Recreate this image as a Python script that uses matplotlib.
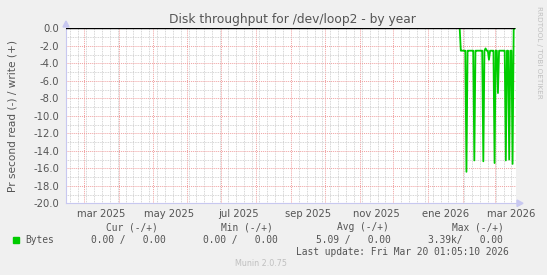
import matplotlib
matplotlib.use("Agg")
import matplotlib.pyplot as plt
import matplotlib.dates as mdates
from matplotlib.patches import Polygon
from matplotlib.ticker import MultipleLocator
import pandas as pd

# graph window (by year, ~400 days)
t_start = "2025-02-13 01:05"
t_end = "2026-03-20 01:05"

# read side (drawn negative), one value per day from 2026-01-29
quiet_dates = ["2025-02-13", "2026-01-29"]
quiet_vals = [0.0, 0.0]
active_from = "2026-01-29"
read_vals = [0.0, -2.56, -2.56,
             -2.56, -2.56, -2.56, -16.4, -2.56, -2.56, -2.56, -2.56, -2.56, -2.56,
             -15.1, -2.56, -2.56, -2.56, -2.56, -2.56, -2.56, -2.56, -15.2, -2.56,
             -2.3, -2.56, -2.56, -3.6, -2.56, -2.56, -2.56, -2.56,
             -15.4, -2.56, -2.56, -7.4, -2.56, -2.56, -2.56, -2.56, -2.56, -2.56,
             -15.1, -2.56, -2.56, -15.0, -2.56, -2.56, -15.5, 0.0, 0.0]

month_ticks = ["2025-03-16", "2025-05-16", "2025-07-16", "2025-09-16",
               "2025-11-16", "2026-01-16", "2026-03-16"]
month_labels = ["mar 2025", "may 2025", "jul 2025", "sep 2025",
                "nov 2025", "ene 2026", "mar 2026"]

legend_heads = ["Cur (-/+)", "Min (-/+)", "Avg (-/+)", "Max (-/+)"]
legend_vals = ["0.00 /   0.00", "0.00 /   0.00", "5.09 /   0.00", "3.39k/   0.00"]

W, H = 547, 275
fig = plt.figure(figsize=(W / 100, H / 100), dpi=100, facecolor="#f0f0f0")


def fx(px):
    return px / W


def fy(py):
    return 1 - py / H


left, right, top, bottom = 66, 516, 28.3, 203.3
ax = fig.add_axes([fx(left), fy(bottom), fx(right) - fx(left), (bottom - top) / H])
ax.set_facecolor("white")

days = pd.date_range(active_from, periods=len(read_vals), freq="D")
ax.plot(pd.to_datetime(quiet_dates), quiet_vals, color="#00cc00", lw=1.3, zorder=3)
ax.plot(days, read_vals, color="#00cc00", lw=1.3, zorder=3)
ax.axhline(0, color="black", lw=1.0, zorder=4, xmax=0.995)

ax.set_xlim(pd.Timestamp(t_start), pd.Timestamp(t_end))
ax.set_ylim(-20, 0)

# grid
ax.xaxis.set_major_locator(mdates.MonthLocator())
ax.xaxis.set_minor_locator(mdates.WeekdayLocator(byweekday=mdates.MO))
ax.yaxis.set_major_locator(MultipleLocator(2))
ax.yaxis.set_minor_locator(MultipleLocator(1))
ax.grid(True, which="major", color="#f0a0a0", lw=0.7, ls=(0, (1, 1)), zorder=1)
ax.grid(True, which="minor", color="#c8c8c8", lw=0.6, ls=(0, (1, 1)), zorder=0)
ax.tick_params(which="both", length=0)
ax.set_xticklabels([])

ax.set_yticks(range(-20, 1, 2))
ax.set_yticklabels(["%.1f" % v for v in range(-20, 1, 2)])
ax.tick_params(axis="y", labelsize=7.2, labelcolor="#555555", pad=5)

for t, lab in zip(month_ticks, month_labels):
    ax.text(mdates.date2num(pd.Timestamp(t)), -20.7, lab, ha="center", va="top",
            fontsize=7.2, color="#555555", clip_on=False)

for s in ["top", "right"]:
    ax.spines[s].set_visible(False)
ax.spines["left"].set_color("#c8c8f0")
ax.spines["bottom"].set_color("#c8c8f0")
ax.spines["left"].set_linewidth(0.8)
ax.spines["bottom"].set_linewidth(0.8)

# axis arrows
fig.add_artist(Polygon([[fx(63), fy(27)], [fx(69), fy(27)], [fx(66), fy(21)]],
                       closed=True, color="#c8c8f0", transform=fig.transFigure))
fig.add_artist(Polygon([[fx(517), fy(200)], [fx(517), fy(206.5)], [fx(523), fy(203.3)]],
                       closed=True, color="#c8c8f0", transform=fig.transFigure))

fig.text(fx(292), fy(19), "Disk throughput for /dev/loop2 - by year", ha="center",
         va="center", fontsize=8.8, color="#555555")
fig.text(fx(13), fy(116), "Pr second read (-) / write (+)", rotation=90, ha="center",
         va="center", fontsize=7.6, color="#555555")
fig.text(fx(539), fy(6), "RRDTOOL / TOBI OETIKER", rotation=270, ha="center", va="top",
         fontsize=5.2, color="#c0c0c0")

mono = "DejaVu Sans Mono"
head_x = [106, 221, 337, 452]
val_x = [91, 203, 316, 428]
for x, h in zip(head_x, legend_heads):
    fig.text(fx(x), fy(227), h, fontsize=6.9, family=mono, color="#555555",
             va="center", ha="left")
fig.patches.append(plt.Rectangle((fx(13), fy(243)), fx(6), 6 / H, color="#00cc00",
                                 transform=fig.transFigure, figure=fig))
fig.text(fx(25), fy(240), "Bytes", fontsize=6.9, family=mono, color="#555555",
         va="center", ha="left")
for x, v in zip(val_x, legend_vals):
    fig.text(fx(x), fy(240), v, fontsize=6.9, family=mono, color="#555555",
             va="center", ha="left")
fig.text(fx(509), fy(252), "Last update: Fri Mar 20 01:05:10 2026", fontsize=6.9,
         family=mono, color="#555555", va="center", ha="right")
fig.text(fx(261), fy(264), "Munin 2.0.75", fontsize=5.8, color="#c0c0c0",
         va="center", ha="center")

fig.savefig("out.png", dpi=100, facecolor=fig.get_facecolor())
